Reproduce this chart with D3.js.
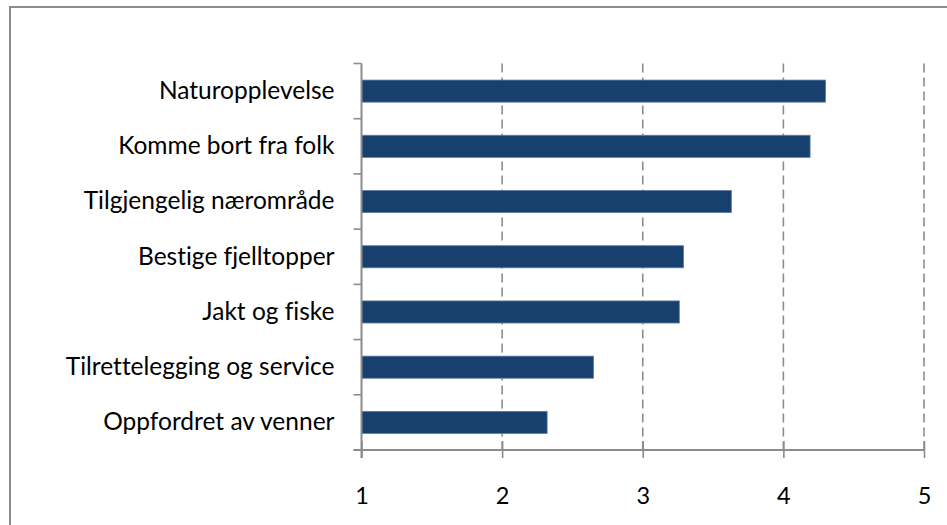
<!DOCTYPE html>
<html>
<head>
<meta charset="utf-8">
<script src="https://cdn.jsdelivr.net/npm/d3@7"></script>
<style>
  body { margin: 0; background: #fff; }
  #content { width: 947px; height: 525px; }
  text { font-family: Lato, "Open Sans", sans-serif; fill: #000; font-variant-ligatures: none; }
</style>
</head>
<body>
<div id="content"></div>
<script>
var categories = ["Naturopplevelse", "Komme bort fra folk", "Tilgjengelig nærområde",
    "Bestige fjelltopper", "Jakt og fiske", "Tilrettelegging og service", "Oppfordret av venner"];
var values = [4.30, 4.19, 3.63, 3.29, 3.26, 2.65, 2.32];
var xTicks = [1, 2, 3, 4, 5];

(function(d3) {
    var width = 947, height = 525;
    var margin = {top: 63.5, right: 23, bottom: 75, left: 361.5};
    var grey = "#8c8c8c";

    var svg = d3.select("#content").append("svg")
        .attr("viewBox", [0, 0, width, height])
        .attr("width", width).attr("height", height);

    // chart frame (runs off the right and bottom edges)
    svg.append("rect")
        .attr("x", 10).attr("y", 7)
        .attr("width", width + 20).attr("height", height + 20)
        .attr("fill", "none").attr("stroke", grey).attr("stroke-width", 2);

    var data = categories.map(function(c, i) { return {name: c, value: values[i]}; });

    var x = d3.scaleLinear()
        .domain([1, 5])
        .range([margin.left, width - margin.right]);

    var y = d3.scaleBand()
        .domain(categories)
        .range([margin.top, height - margin.bottom])
        .paddingInner(0.6)
        .paddingOuter(0.3);

    var bottom = height - margin.bottom;

    // dashed gridlines
    svg.append("g")
        .selectAll("line")
        .data(xTicks.slice(1))
        .join("line")
        .attr("x1", function(d) { return x(d); })
        .attr("x2", function(d) { return x(d); })
        .attr("y1", margin.top)
        .attr("y2", bottom)
        .attr("stroke", grey)
        .attr("stroke-width", 1.6)
        .attr("stroke-dasharray", "9,5");

    // bars
    svg.append("g")
        .selectAll("rect")
        .data(data)
        .join("rect")
        .attr("x", x(1))
        .attr("y", function(d) { return y(d.name); })
        .attr("width", function(d) { return x(d.value) - x(1); })
        .attr("height", y.bandwidth())
        .attr("fill", "#17406f")
        .attr("stroke", "#5d7ca3")
        .attr("stroke-width", 0.8);

    // x axis
    var xAxis = svg.append("g")
        .attr("transform", "translate(0," + bottom + ")")
        .call(d3.axisBottom(x).tickValues(xTicks).tickFormat(d3.format("d"))
            .tickSizeInner(8).tickSizeOuter(0).tickPadding(29));
    xAxis.select(".domain").remove();
    xAxis.selectAll(".tick line")
        .attr("y1", -9)
        .attr("stroke", grey).attr("stroke-width", 1.6);
    xAxis.selectAll(".tick text")
        .attr("font-size", 23.5)
        .style("font-family", "Lato, sans-serif");
    xAxis.append("line")
        .attr("x1", x(1) - 8).attr("x2", x(5))
        .attr("stroke", grey).attr("stroke-width", 2);

    // y axis: labels at band centres, ticks at band edges
    var yAxis = svg.append("g")
        .attr("transform", "translate(" + x(1) + ",0)")
        .call(d3.axisLeft(y).tickSize(0).tickPadding(27));
    yAxis.select(".domain").remove();
    yAxis.selectAll(".tick text")
        .attr("font-size", 24.5)
        .style("font-family", "Lato, sans-serif");

    var edges = categories.map(function(c) { return y(c) - y.step() * 0.3; });
    edges.push(bottom);
    yAxis.append("g")
        .selectAll("line")
        .data(edges)
        .join("line")
        .attr("x1", -8).attr("x2", 0)
        .attr("y1", function(d) { return d; })
        .attr("y2", function(d) { return d; })
        .attr("stroke", grey).attr("stroke-width", 1.6);
    yAxis.append("line")
        .attr("y1", margin.top).attr("y2", bottom + 8)
        .attr("stroke", grey).attr("stroke-width", 2);
})(d3);
</script>
</body>
</html>
